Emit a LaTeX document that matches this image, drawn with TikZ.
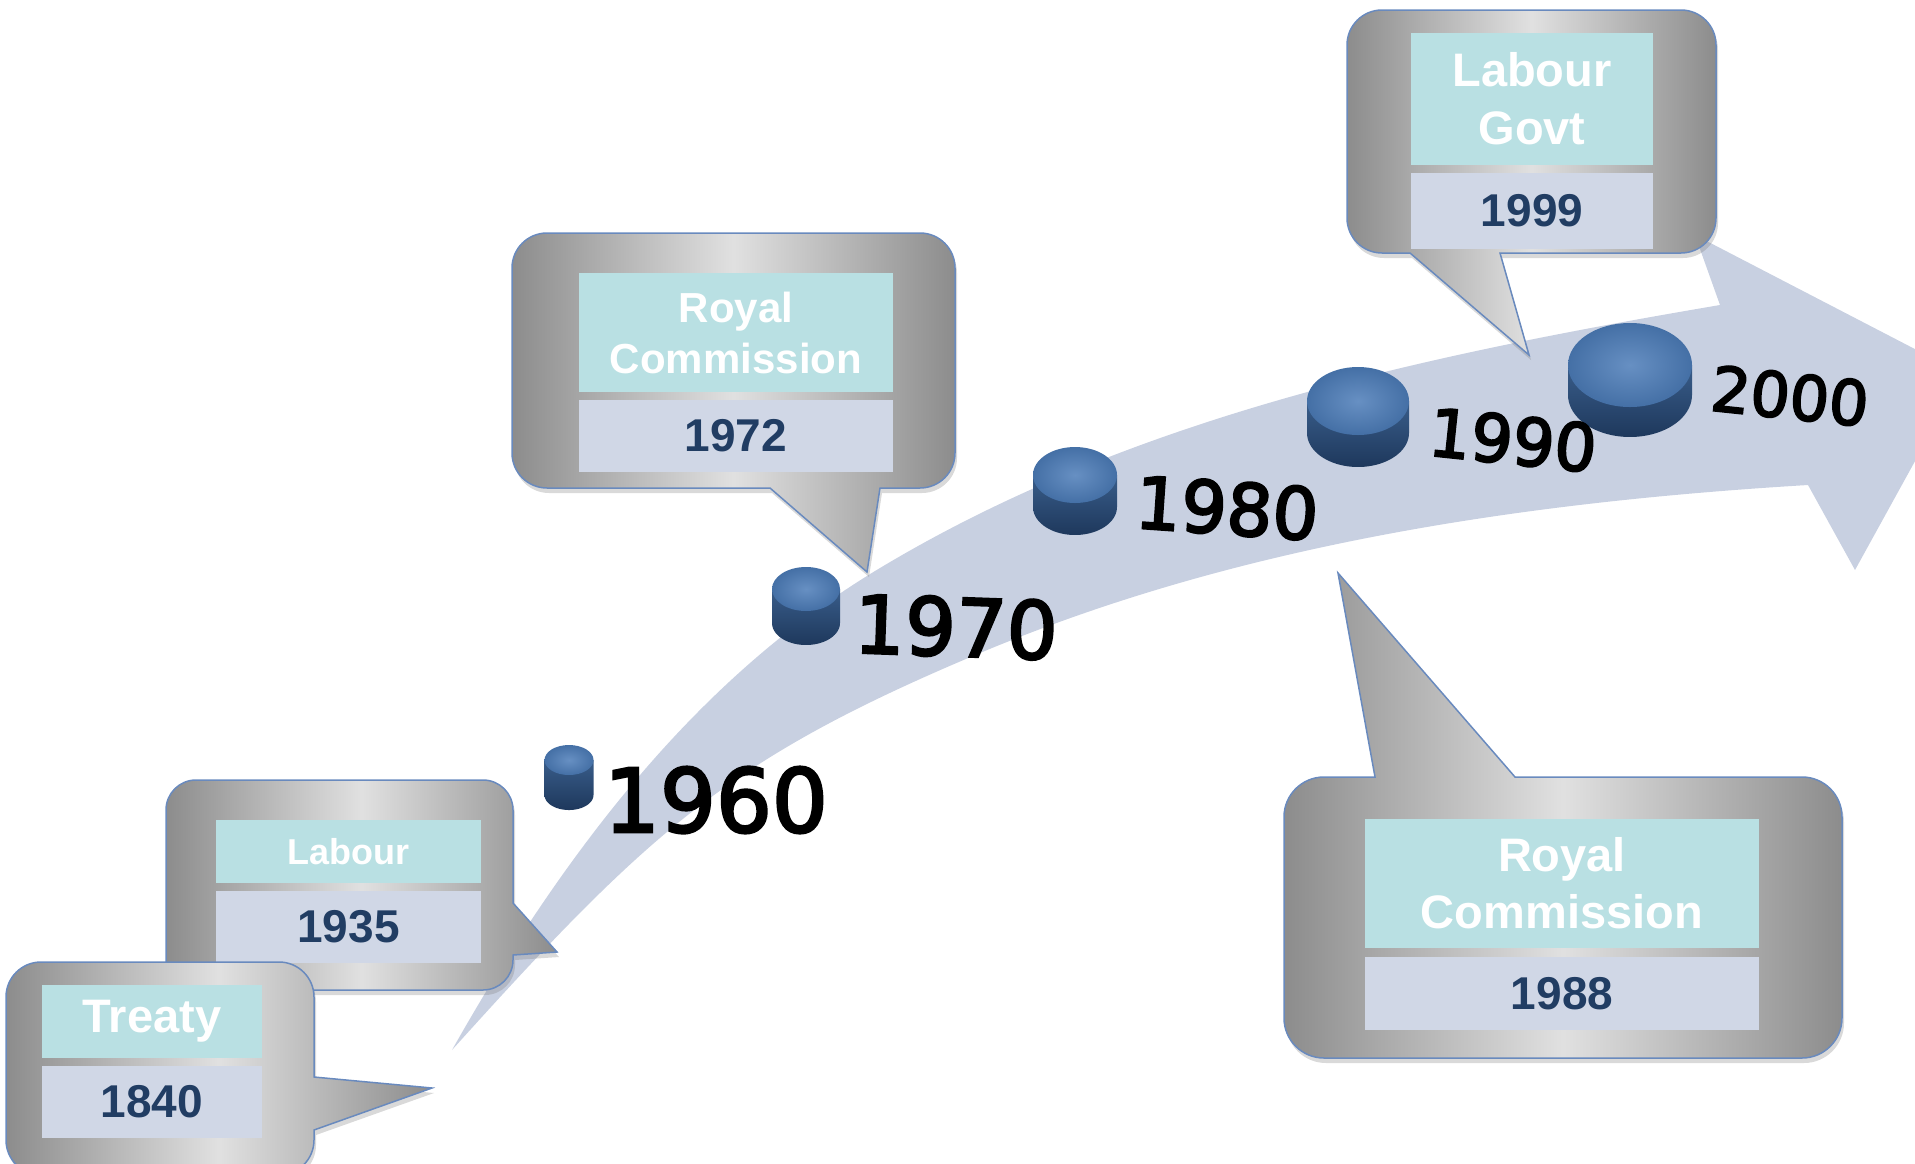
\documentclass[tikz,border=0pt]{standalone}
\usepackage{fontspec}
\setmainfont{Liberation Sans}
\newfontfamily\yearfont[FakeBold=3]{DejaVu Sans}
\usetikzlibrary{shadows}

\definecolor{bandcol}{RGB}{200,208,225}
\definecolor{headcol}{RGB}{185,224,227}
\definecolor{yearbox}{RGB}{208,215,230}
\definecolor{navy}{RGB}{33,61,99}
\definecolor{rimcol}{RGB}{105,138,190}
\definecolor{pucklite}{RGB}{76,124,184}
\definecolor{puckdark}{RGB}{30,56,92}

\tikzset{
  bubble/.style={draw=rimcol, line width=1.5, left color=black!45, right color=black!45,
    middle color=black!12, drop shadow={opacity=0.3, shadow xshift=2pt, shadow yshift=-5pt}},
  head/.style={fill=headcol, text=white, align=center, inner sep=0pt},
  yearcell/.style={fill=yearbox, text=navy, inner sep=0pt,
    font=\bfseries\fontsize{46}{50}\selectfont},
  tick/.style={font=\yearfont, text=black, inner sep=0pt},
  puckside/.style={top color=pucklite!75!black, bottom color=puckdark},
  pucktop/.style={inner color=pucklite!85!white, outer color=pucklite!90!black}
}

% centre x, top y, x radius, height, y radius
\newcommand{\puck}[5]{%
  \shade[puckside] ({#1+#3},{#2+#5}) -- plot[domain=0:180,samples=40]
    ({#1+#3*cos(\x)},{#2+#4-#5+#5*sin(\x)}) -- ({#1-#3},{#2+#5}) -- cycle;
  \shade[pucktop] (#1,{#2+#5}) ellipse [x radius=#3, y radius=#5];
}

\begin{document}
\begin{tikzpicture}[x=1pt,y=-1pt]

\useasboundingbox (0,0) rectangle (1915,1163);
\clip (0,0) rectangle (1915,1163);

\fill[bandcol] (452,1050) .. controls (592,802) and (730,658) .. (880,568)
  .. controls (1130,418) and (1420,356) .. (1720,305)
  -- (1695,235) -- (1963,374) -- (1855,570) -- (1808,485)
  .. controls (1508,503) and (1230,548) .. (980,653)
  .. controls (730,758) and (652,828) .. (452,1050) -- cycle;

\draw[bubble] (166,880) [rounded corners=30] -- (166,780) -- (513,780) [sharp corners]
  -- (513,903) -- (557,952) -- (513,955) [rounded corners=30] -- (513,990)
  -- (166,990) -- cycle;
\node[head, minimum width=265, minimum height=63,
  font=\bfseries\fontsize{36}{42}\selectfont] (labourhead) at (348.5,851.5) {Labour};
\node[yearcell, minimum width=265, minimum height=72] (labouryear) at (348.5,927) {1935};

\draw[bubble] (6,1060) [rounded corners=35] -- (6,962) -- (314,962) [sharp corners]
  -- (314,1077) -- (432,1088) -- (314,1130) [rounded corners=35] -- (314,1175)
  -- (6,1175) -- cycle;
\node[head, minimum width=220, minimum height=73,
  font=\bfseries\fontsize{47}{57}\selectfont] (treatyhead) at (152,1021.5) {Treaty};
\node[yearcell, minimum width=220, minimum height=72] (treatyyear) at (152,1102) {1840};

\draw[bubble] (512,360) [rounded corners=35] -- (512,233) -- (955,233) -- (955,488)
  [sharp corners] -- (880,488) -- (867,572) -- (770,488) [rounded corners=35]
  -- (512,488) -- cycle;
\node[head, minimum width=314, minimum height=119,
  font=\bfseries\fontsize{42}{51}\selectfont] (royalhead) at (736,332.5) {Royal\\Commission};
\node[yearcell, minimum width=314, minimum height=72] (royalyear) at (736,436) {1972};

\draw[bubble] (1347,130) [rounded corners=35] -- (1347,10) -- (1716,10) -- (1716,253)
  [sharp corners] -- (1500,253) -- (1529,355) -- (1410,253) [rounded corners=35]
  -- (1347,253) -- cycle;
\node[head, minimum width=242, minimum height=132,
  font=\bfseries\fontsize{47}{58}\selectfont] (govthead) at (1532,99) {Labour\\Govt};
\node[yearcell, minimum width=242, minimum height=76] (govtyear) at (1532,211) {1999};

\draw[bubble] (1284,900) [rounded corners=40] -- (1284,777) [sharp corners]
  -- (1375,777) -- (1338,573) -- (1515,777) [rounded corners=40] -- (1842,777)
  -- (1842,1058) -- (1284,1058) -- cycle;
\node[head, minimum width=394, minimum height=129,
  font=\bfseries\fontsize{47}{57}\selectfont] (commhead) at (1562,883.5) {Royal\\Commission};
\node[yearcell, minimum width=394, minimum height=73] (commyear) at (1562,993.5) {1988};

\puck{569}{745}{24.5}{65}{15}
\puck{806}{567}{34}{78}{22}
\puck{1075}{447}{42}{88}{28}
\puck{1358}{367}{51}{100}{34}
\puck{1630}{323}{62}{114}{42}

\node[tick, font=\yearfont\fontsize{88}{90}\selectfont] (t1960) at (716,800) {1960};
\node[tick, font=\yearfont\fontsize{80}{82}\selectfont, rotate=-2] (t1970) at (956,627) {1970};
\node[tick, font=\yearfont\fontsize{72}{74}\selectfont, rotate=-4] (t1980) at (1227,508) {1980};
\node[tick, font=\yearfont\fontsize{66}{68}\selectfont, rotate=-6] (t1990) at (1513,440) {1990};
\node[tick, font=\yearfont\fontsize{62}{64}\selectfont, rotate=-6] (t2000) at (1790,396) {2000};

\end{tikzpicture}
\end{document}
